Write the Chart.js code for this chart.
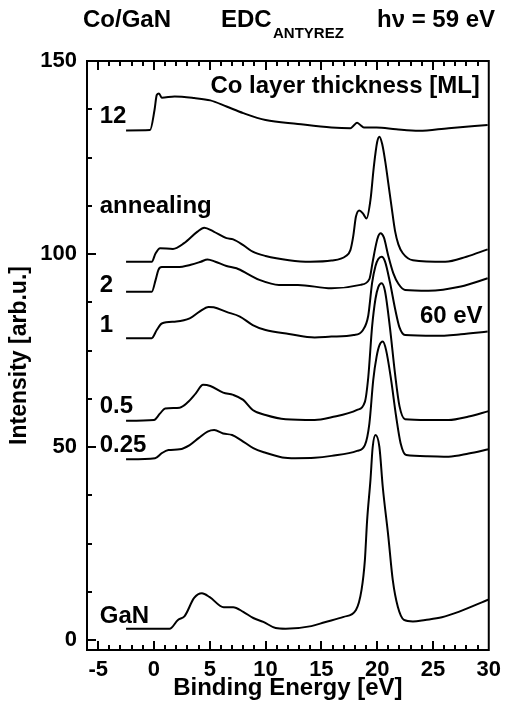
<!DOCTYPE html>
<html>
<head>
<meta charset="utf-8">
<script src="https://cdn.jsdelivr.net/npm/chart.js@4.4.0/dist/chart.umd.min.js"></script>
<style>
  html, body { margin: 0; padding: 0; background: #fff; }
</style>
</head>
<body>
<canvas id="edcChart" width="510" height="708"></canvas>
<script>
// axis tick labels
const energyTicks = [-5, 0, 5, 10, 15, 20, 25, 30];
const intensityTicks = [0, 50, 100, 150];

// Co/GaN EDC curves, binding energy [eV] and intensity [arb.u.] (offset per curve)
const ganE = [-2.5, 1.4, 2.15, 2.75, 3.6, 4.3, 5.0, 6.25, 7.1, 8.0, 8.9, 9.8, 10.9, 11.8, 14.1, 15.3, 17.0, 18.1, 18.6, 18.9, 19.1, 19.4, 19.6, 19.85, 20.2, 20.5, 21.0, 21.4, 21.85, 22.4, 23.2, 24.3, 25.8, 27.3, 30];
const ganI = [2.9, 2.9, 5.2, 6.2, 10.9, 12.1, 11.1, 8.5, 8.5, 7.3, 5.7, 4.7, 3.1, 2.9, 3.6, 4.6, 6.0, 7.8, 13.0, 20.7, 31.0, 41.5, 50.0, 53.1, 50.0, 39.7, 26.8, 15.5, 8.6, 5.2, 4.8, 5.2, 5.9, 7.3, 10.5];

const q025E = [-2.5, 0.1, 0.7, 1.3, 2.3, 3.2, 4.0, 4.8, 5.4, 6.2, 7.0, 7.8, 8.9, 10.0, 11.5, 12.65, 14.4, 15.9, 18.2, 18.9, 19.3, 19.65, 19.95, 20.2, 20.5, 20.8, 21.25, 21.7, 22.1, 22.6, 24.5, 26.4, 28.2, 30];
const q025I = [46.8, 47.1, 48.4, 49.2, 49.4, 50.5, 52.3, 54.0, 54.4, 53.5, 53.1, 51.8, 49.7, 48.5, 47.3, 47.1, 47.2, 47.7, 49.0, 50.5, 56.0, 67.4, 73.4, 76.3, 77.3, 75.1, 67.4, 57.9, 51.0, 47.9, 47.6, 47.5, 48.3, 49.4];

const half05E = [-2.5, 0.0, 0.55, 1.0, 2.3, 3.0, 3.75, 4.4, 5.05, 6.2, 7.1, 8.0, 8.85, 10.0, 11.8, 14.4, 15.9, 18.2, 18.9, 19.2, 19.55, 19.85, 20.1, 20.4, 20.7, 21.15, 21.6, 22.0, 22.5, 24.5, 26.4, 28.2, 30];
const half05I = [56.8, 57.0, 58.7, 60.0, 60.2, 61.5, 63.9, 66.1, 65.8, 64.1, 63.5, 62.2, 59.6, 58.3, 57.2, 57.0, 57.7, 59.6, 61.7, 68.0, 81.3, 88.4, 91.4, 92.4, 90.4, 80.8, 69.0, 60.6, 57.2, 57.0, 57.0, 57.9, 59.3];

const one1E = [-2.5, -0.2, 0.25, 0.7, 2.0, 3.2, 4.05, 4.9, 5.35, 6.5, 7.7, 8.85, 10.0, 12.1, 14.4, 15.9, 17.9, 18.7, 19.2, 19.55, 19.85, 20.1, 20.4, 20.7, 21.15, 21.6, 22.0, 22.5, 25.2, 27.5, 29.9];
const one1I = [78.2, 78.2, 80.3, 82.0, 82.5, 83.3, 85.0, 86.3, 86.2, 85.0, 83.8, 81.6, 80.3, 79.3, 78.4, 78.6, 79.0, 80.2, 84.0, 92.6, 96.9, 98.7, 99.3, 98.1, 92.6, 85.9, 81.0, 79.0, 78.8, 79.2, 79.9];

const two2E = [-2.5, -0.2, 0.15, 0.4, 0.7, 2.1, 3.3, 4.2, 4.8, 5.5, 6.5, 7.4, 8.55, 9.45, 11.2, 12.9, 15.9, 18.5, 19.3, 19.6, 19.9, 20.1, 20.3, 20.6, 21.0, 21.45, 21.9, 22.5, 24.6, 27.5, 29.9];
const two2I = [90.2, 90.2, 93.3, 95.9, 96.6, 96.6, 97.2, 98.0, 98.6, 98.0, 96.9, 96.3, 94.6, 93.3, 92.0, 92.0, 91.1, 92.0, 93.5, 98.0, 102.5, 104.6, 105.4, 104.3, 99.5, 95.0, 92.3, 90.7, 90.5, 91.6, 93.7];

const annealE = [-2.5, -0.2, 0.15, 0.55, 1.7, 2.7, 3.9, 4.5, 5.35, 6.5, 7.1, 8.0, 8.85, 10.0, 12.1, 14.0, 15.9, 17.2, 17.6, 17.85, 18.1, 18.4, 18.75, 19.05, 19.4, 19.7, 20.0, 20.2, 20.45, 20.75, 21.0, 21.3, 21.6, 21.9, 22.3, 23.2, 26.1, 28.0, 29.9];
const annealI = [98.0, 98.0, 100.2, 101.5, 101.3, 102.8, 105.8, 106.8, 105.8, 104.1, 103.8, 102.3, 100.6, 99.5, 98.4, 98.0, 98.3, 99.5, 101.0, 104.5, 109.7, 111.3, 110.4, 109.2, 114.0, 122.6, 129.0, 130.4, 128.5, 123.5, 118.3, 112.0, 106.0, 102.5, 100.2, 98.4, 98.0, 99.3, 101.2];

const ml12E = [-2.5, -0.35, 0.05, 0.25, 0.45, 0.7, 1.85, 3.6, 5.05, 6.5, 8.0, 10.0, 12.9, 15.9, 17.6, 17.9, 18.2, 18.5, 18.8, 19.95, 21.7, 23.75, 26.4, 29.9];
const ml12I = [132.0, 132.1, 137.3, 141.2, 141.6, 140.5, 140.8, 140.4, 139.8, 138.2, 136.5, 134.7, 133.7, 132.8, 132.6, 133.3, 134.0, 133.4, 132.8, 132.8, 132.3, 131.9, 132.6, 133.4];

// curve labels: text, energy, intensity, align
const curveLabels = [
  ['12', -4.86, 135.6, 'left'],
  ['annealing', -4.86, 112.3, 'left'],
  ['2', -4.86, 92.0, 'left'],
  ['1', -4.86, 81.6, 'left'],
  ['0.5', -4.86, 60.6, 'left'],
  ['0.25', -4.86, 50.3, 'left'],
  ['GaN', -4.86, 6.0, 'left'],
  ['60 eV', 29.45, 83.8, 'right'],
  ['Co layer thickness [ML]', 29.2, 143.3, 'right']
];

const FONT = '"Liberation Sans", Arial, sans-serif';

function toPoints(e, i) {
  return e.map((x, k) => ({ x: x, y: i[k] }));
}

const curves = [
  [ganE, ganI], [q025E, q025I], [half05E, half05I], [one1E, one1I],
  [two2E, two2I], [annealE, annealI], [ml12E, ml12I]
];

const framePlugin = {
  id: 'framePlugin',
  afterDraw(chart) {
    const ctx = chart.ctx;
    const a = chart.chartArea;
    const xs = chart.scales.x;
    const ys = chart.scales.y;
    ctx.save();
    ctx.strokeStyle = '#000';
    ctx.lineWidth = 2;
    ctx.strokeRect(a.left, a.top, a.right - a.left, a.bottom - a.top);

    ctx.beginPath();
    for (let e = -5; e < 30; e++) {
      const px = Math.round(xs.getPixelForValue(e));
      const len = e % 5 === 0 ? 9 : 5;
      ctx.moveTo(px, a.bottom); ctx.lineTo(px, a.bottom - len);
      ctx.moveTo(px, a.top); ctx.lineTo(px, a.top + len);
    }
    for (let v = 0; v < 150; v += 12.5) {
      const py = Math.round(ys.getPixelForValue(v));
      const len = v % 50 === 0 ? 9 : 5;
      ctx.moveTo(a.left, py); ctx.lineTo(a.left + len, py);
    }
    ctx.stroke();

    // curve labels
    ctx.fillStyle = '#000';
    ctx.textBaseline = 'middle';
    ctx.font = 'bold 24px ' + FONT;
    curveLabels.forEach(([t, e, v, al]) => {
      ctx.textAlign = al;
      ctx.fillText(t, xs.getPixelForValue(e), ys.getPixelForValue(v));
    });

    // header
    ctx.textAlign = 'left';
    ctx.font = 'bold 24px ' + FONT;
    ctx.fillText('Co/GaN', 83, 20);
    ctx.fillText('EDC', 221, 20);
    ctx.fillText('h\u03bd = 59 eV', 377, 20);
    ctx.font = 'bold 15px ' + FONT;
    ctx.fillText('ANTYREZ', 273, 34);
    ctx.restore();
  }
};

new Chart(document.getElementById('edcChart').getContext('2d'), {
  type: 'line',
  data: {
    datasets: curves.map(([e, i]) => ({
      data: toPoints(e, i),
      borderColor: '#000',
      borderWidth: 2,
      pointRadius: 0,
      fill: false,
      cubicInterpolationMode: 'monotone'
    }))
  },
  options: {
    responsive: false,
    animation: false,
    devicePixelRatio: 1,
    layout: { padding: { left: 0, right: 12, top: 61, bottom: 0 } },
    plugins: {
      legend: { display: false },
      tooltip: { enabled: false }
    },
    scales: {
      x: {
        type: 'linear',
        min: -6,
        max: 30,
        grid: { display: false, drawTicks: false },
        border: { display: false },
        afterBuildTicks: s => { s.ticks = energyTicks.map(v => ({ value: v })); },
        afterFit: s => { s.height = 58; },
        ticks: {
          autoSkip: false, maxRotation: 0, padding: 9, color: '#000',
          font: { family: FONT, size: 22, weight: 'bold', lineHeight: 1 }
        },
        title: {
          display: true, text: 'Binding Energy [eV]', color: '#000',
          font: { family: FONT, size: 24, weight: 'bold', lineHeight: 1 },
          padding: { top: 0, bottom: 8 }
        }
      },
      y: {
        type: 'linear',
        min: -2.59,
        max: 150,
        grid: { display: false, drawTicks: false },
        border: { display: false },
        afterBuildTicks: s => { s.ticks = intensityTicks.map(v => ({ value: v })); },
        afterFit: s => { s.width = 87; },
        ticks: {
          autoSkip: false, padding: 10, color: '#000',
          font: { family: FONT, size: 22, weight: 'bold', lineHeight: 1 }
        },
        title: {
          display: true, text: 'Intensity [arb.u.]', color: '#000',
          font: { family: FONT, size: 23, weight: 'bold', lineHeight: 1 },
          padding: { top: 8, bottom: 0 }
        }
      }
    }
  },
  plugins: [framePlugin]
});
</script>
</body>
</html>
